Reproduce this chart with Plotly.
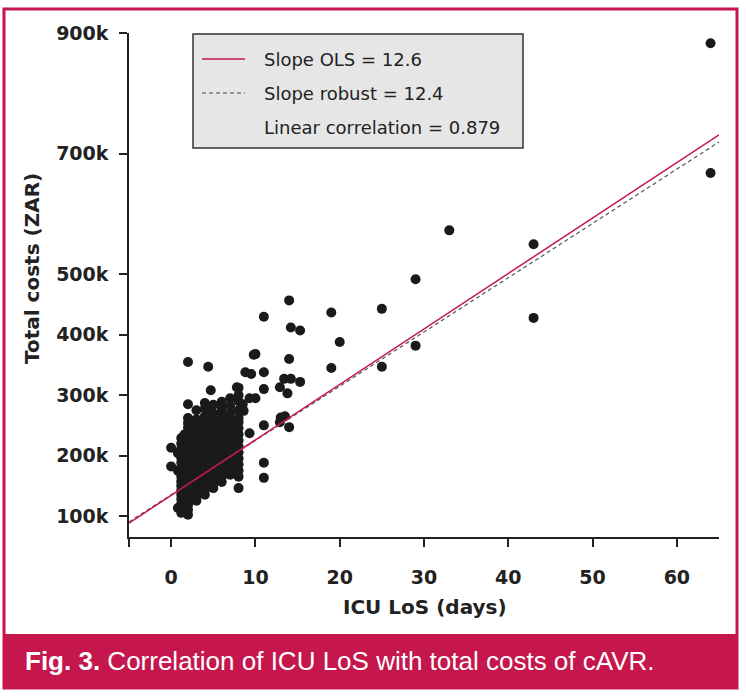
import plotly.graph_objects as go

# ICU length of stay (days) vs total costs (thousand ZAR)
# dense cluster, one list per LoS column
los_cols = [0.0, 0.8, 1.2, 1.6, 2.0, 2.4, 3.0, 4.0, 4.4, 5.0, 6.0, 7.0, 8.0]
cost_cols = [
    [182, 213],
    [175, 204, 113],
    [105, 113, 120, 128, 135, 142, 150, 157, 165, 172, 180, 188, 196, 204, 212, 220, 229],
    [115, 125, 140, 155, 170, 185, 200, 215, 235],
    [102, 110, 118, 126, 134, 142, 150, 158, 166, 174, 182, 190, 198, 206, 214, 222, 230,
     238, 246, 254, 262, 285, 355],
    [130, 145, 160, 175, 190, 205, 220, 235, 250],
    [125, 132, 140, 148, 156, 164, 172, 180, 188, 196, 204, 212, 220, 228, 236, 244, 252,
     260, 275],
    [135, 143, 151, 159, 167, 175, 183, 191, 199, 207, 215, 223, 231, 239, 247, 255, 265,
     278, 287],
    [150, 170, 190, 210, 230, 250, 268, 278, 347],
    [146, 154, 162, 170, 178, 186, 194, 202, 210, 218, 226, 234, 242, 250, 260, 270, 284],
    [156, 164, 172, 180, 188, 196, 204, 212, 220, 228, 236, 244, 252, 262, 272, 280, 289],
    [168, 176, 184, 192, 200, 208, 216, 224, 232, 240, 250, 260, 270, 282, 295],
    [146, 165, 175, 185, 195, 205, 215, 225, 235, 245, 255, 262, 275, 290, 300, 312],
]

# scattered points
other_los = [4.7, 7.8, 8.5, 8.6, 8.8, 9.3, 9.3, 9.5, 9.8, 10, 10, 11, 11, 11, 11, 11, 11,
             12.9, 12.9, 13, 13.4, 13.5, 13.8, 14, 14, 14, 14.2, 14.2, 15.3, 15.3,
             19, 19, 20, 25, 25, 29, 29, 33, 43, 43, 64, 64]
other_cost = [308, 313, 285, 274, 338, 295, 237, 335, 367, 295, 368, 430, 338, 310, 250, 188, 163,
              313, 255, 263, 327, 265, 303, 457, 360, 247, 412, 327, 407, 322,
              437, 345, 388, 443, 347, 492, 382, 573, 550, 428, 883, 668]

# fitted lines (intercept in k, slope in k per day)
ols_intercept, ols_slope = 134.0, 9.19
rob_intercept, rob_slope = 135.0, 8.99

legend_rows = ["Slope OLS = 12.6", "Slope robust = 12.4", "Linear correlation = 0.879"]

y_ticks = [100, 200, 300, 400, 500, 700, 900]
x_ticks = [-5, 0, 10, 20, 30, 40, 50, 60]

CRIMSON = "#c5164d"
W, H = 746, 698
L, R, T, B = 129, 719, 33, 537
x_range = [-5, 65]


def px_x(p):
    return (p - L) / (R - L)


def px_y(p):
    return (B - p) / (B - T)


los = []
cost = []
for d, vals in zip(los_cols, cost_cols):
    los += [d] * len(vals)
    cost += vals
los += other_los
cost += other_cost

fig = go.Figure()
fig.add_trace(go.Scatter(x=los, y=cost, mode="markers",
                         marker=dict(size=10, color="#1a1a1a", line=dict(width=0)),
                         showlegend=False))
fig.add_trace(go.Scatter(x=x_range, y=[rob_intercept + rob_slope * v for v in x_range],
                         mode="lines", line=dict(color="#555555", width=1.2, dash="4px,3px"),
                         showlegend=False))
fig.add_trace(go.Scatter(x=x_range, y=[ols_intercept + ols_slope * v for v in x_range],
                         mode="lines", line=dict(color=CRIMSON, width=1.5),
                         showlegend=False))

shapes = [
    # outer frame and caption band
    dict(type="rect", xref="paper", yref="paper", x0=px_x(4), x1=px_x(737),
         y0=px_y(688), y1=px_y(9), line=dict(color=CRIMSON, width=3), layer="below"),
    dict(type="rect", xref="paper", yref="paper", x0=px_x(4), x1=px_x(737),
         y0=px_y(688), y1=px_y(634), fillcolor=CRIMSON, line=dict(width=0)),
    # legend box
    dict(type="rect", xref="paper", yref="paper", x0=px_x(193), x1=px_x(523),
         y0=px_y(148), y1=px_y(34), fillcolor="#e6e6e6",
         line=dict(color="#333333", width=1.5), layer="below"),
    dict(type="line", xref="paper", yref="paper", x0=px_x(202), x1=px_x(245),
         y0=px_y(59), y1=px_y(59), line=dict(color=CRIMSON, width=1.5)),
    dict(type="line", xref="paper", yref="paper", x0=px_x(202), x1=px_x(245),
         y0=px_y(93), y1=px_y(93), line=dict(color="#444444", width=1.2, dash="4px,3px")),
]

annotations = []
for row, ypx in zip(legend_rows, [59, 93, 127]):
    annotations.append(dict(text=row, xref="paper", yref="paper", x=px_x(262), y=px_y(ypx),
                            xanchor="left", yanchor="middle", showarrow=False,
                            font=dict(family="DejaVu Sans", size=18, color="#222222")))
annotations += [
    dict(text="<b>ICU LoS (days)</b>", xref="paper", yref="paper", x=px_x(425), y=px_y(607),
         xanchor="center", yanchor="middle", showarrow=False,
         font=dict(family="DejaVu Sans", size=20, color="#222222")),
    dict(text="<b>Total costs (ZAR)</b>", xref="paper", yref="paper", x=px_x(32), y=px_y(269),
         xanchor="center", yanchor="middle", showarrow=False, textangle=-90,
         font=dict(family="DejaVu Sans", size=20, color="#222222")),
    dict(text="<b>Fig. 3.</b> Correlation of ICU LoS with total costs of cAVR.",
         xref="paper", yref="paper", x=px_x(23), y=px_y(661),
         xanchor="left", yanchor="middle", showarrow=False,
         font=dict(family="Liberation Sans Narrow, Liberation Sans", size=26, color="white")),
]

axis_common = dict(showline=True, linecolor="#222222", linewidth=1.5, ticks="outside",
                   ticklen=8, tickwidth=1.5, tickcolor="#222222", showgrid=False,
                   zeroline=False, tickfont=dict(family="DejaVu Sans", size=19, color="#222222"))

fig.update_layout(
    width=W, height=H,
    margin=dict(l=L, r=W - R, t=T, b=H - B),
    paper_bgcolor="white", plot_bgcolor="white",
    xaxis=dict(range=x_range, tickvals=x_ticks,
               ticktext=["<b>%d</b>" % v if v >= 0 else "" for v in x_ticks],
               ticklabelstandoff=14, **axis_common),
    yaxis=dict(range=[65, 900], tickvals=y_ticks,
               ticktext=["<b>%dk</b>" % v for v in y_ticks],
               ticklabelstandoff=7, **axis_common),
    shapes=shapes,
    annotations=annotations,
)

# drop the default page margin so the figure sits at the window's top-left corner
fig.write_html("out.html", config={"displayModeBar": False},
               post_script="document.body.style.margin = '0';")
